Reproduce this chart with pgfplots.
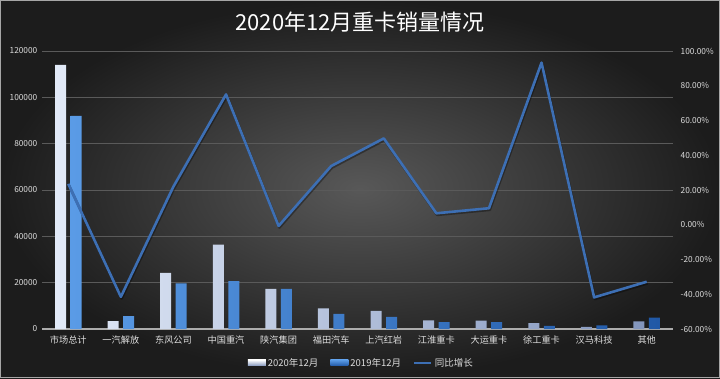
\documentclass[border=0pt]{standalone}
\usepackage{pgfplots}
\pgfplotsset{compat=1.18}
\usepackage{fontspec}
\setmainfont{Noto Sans CJK SC}
\definecolor{bgin}{HTML}{585858}
\definecolor{bgout}{HTML}{1C1C1C}
\definecolor{gridc}{HTML}{5A5A5A}
\definecolor{tickc}{HTML}{DDDDDD}
\definecolor{lineb}{HTML}{3D6FB4}
\definecolor{aL}{HTML}{E2EAF8}
\definecolor{aM}{HTML}{B8C7E4}
\definecolor{aR}{HTML}{8295BC}
\definecolor{bL}{HTML}{5A9BE6}
\definecolor{bM}{HTML}{3A80D6}
\definecolor{bR}{HTML}{2058A6}
\pgfplotstableread{
x v20 v19 g
0 114000 92000 23.5
1 3400 5600 -41.5
2 24200 19700 22
3 36400 20700 75
4 17300 17300 -0.7
5 8900 6500 33.8
6 7800 5200 49.7
7 3700 3000 6.6
8 3600 3000 9.5
9 2500 1300 93.3
10 900 1600 -41.8
11 3300 4900 -32.8
}\datatab
\begin{document}
\begin{tikzpicture}
\shade[inner color=bgin, outer color=bgout] (0pt,0pt) rectangle (720pt,378pt);
\draw[gray!70, line width=0.8pt] (0.4pt,0.4pt) rectangle (719.6pt,377.6pt);
\useasboundingbox (0pt,0pt) rectangle (720pt,378pt);
\node[text=white, font=\fontsize{22}{25}\selectfont] at (360pt,356pt) {2020年12月重卡销量情况};
\begin{axis}[
  at={(42pt,49pt)}, anchor=south west, scale only axis,
  width=631pt, height=278pt,
  xmin=-0.5, xmax=11.5, ymin=0, ymax=120000,
  axis x line=bottom, axis y line=left,
  y axis line style={draw=none},
  x axis line style={draw=gray!65, line width=1.1pt, -},
  major tick length=0pt,
  xtick=data,
  xticklabels={市场总计,一汽解放,东风公司,中国重汽,陕汽集团,福田汽车,上汽红岩,江淮重卡,大运重卡,徐工重卡,汉马科技,其他},
  xticklabel style={text=tickc, font=\fontsize{9.2}{10}\selectfont, yshift=-3pt},
  ytick={0,20000,...,120000},
  scaled y ticks=false,
  yticklabel={\pgfmathprintnumber[fixed,precision=0,1000 sep={}]{\tick}},
  /pgf/number format/assume math mode=true,
  yticklabel style={text=tickc, font=\fontsize{8.3}{9}\selectfont, inner sep=1.5pt, xshift=-3pt},
  ymajorgrids, major grid style={draw=gridc, line width=0.6pt},
  ybar=4.5pt, bar width=11pt,
]
\addplot[draw=none, left color=aL, middle color=aM, right color=aR] table[x=x, y=v20] {\datatab};
\addplot[draw=none, left color=bL, middle color=bM, right color=bR] table[x=x, y=v19] {\datatab};
\end{axis}
\begin{axis}[
  at={(42pt,49pt)}, anchor=south west, scale only axis,
  width=631pt, height=278pt,
  xmin=-0.5, xmax=11.5, ymin=-60, ymax=100,
  axis x line=none, axis y line=right,
  y axis line style={draw=none},
  major tick length=0pt,
  ytick={-60,-40,...,100},
  yticklabel={\pgfmathprintnumber[fixed,fixed zerofill,precision=2]{\tick}\%},
  /pgf/number format/assume math mode=true,
  yticklabel style={text=tickc, font=\fontsize{8.3}{9}\selectfont, inner sep=1.5pt, xshift=6pt},
  legend style={at={(0.506,-0.122)}, anchor=center, legend columns=3, draw=none, fill=none,
    text=tickc, font=\fontsize{9.5}{11}\selectfont,
    /tikz/every even column/.append style={column sep=10pt}},
  legend cell align=left,
]
\addlegendimage{legend image code/.code={\path[draw=none, top color=white, bottom color=aR] (0pt,-3pt) rectangle (18pt,3pt);}}
\addlegendentry{2020年12月}
\addlegendimage{legend image code/.code={\path[draw=none, top color=bL, bottom color=bR] (0pt,-3pt) rectangle (18pt,3pt);}}
\addlegendentry{2019年12月}
\addplot[black, opacity=0.35, line width=2.6pt, line join=round, mark=none, shift={(0.8pt,-1.6pt)}, forget plot] table[x=x, y=g] {\datatab};
\addplot[lineb, line width=2.6pt, line join=round, mark=none] table[x=x, y=g] {\datatab};
\addlegendentry{同比增长}
\end{axis}
\end{tikzpicture}
\end{document}
